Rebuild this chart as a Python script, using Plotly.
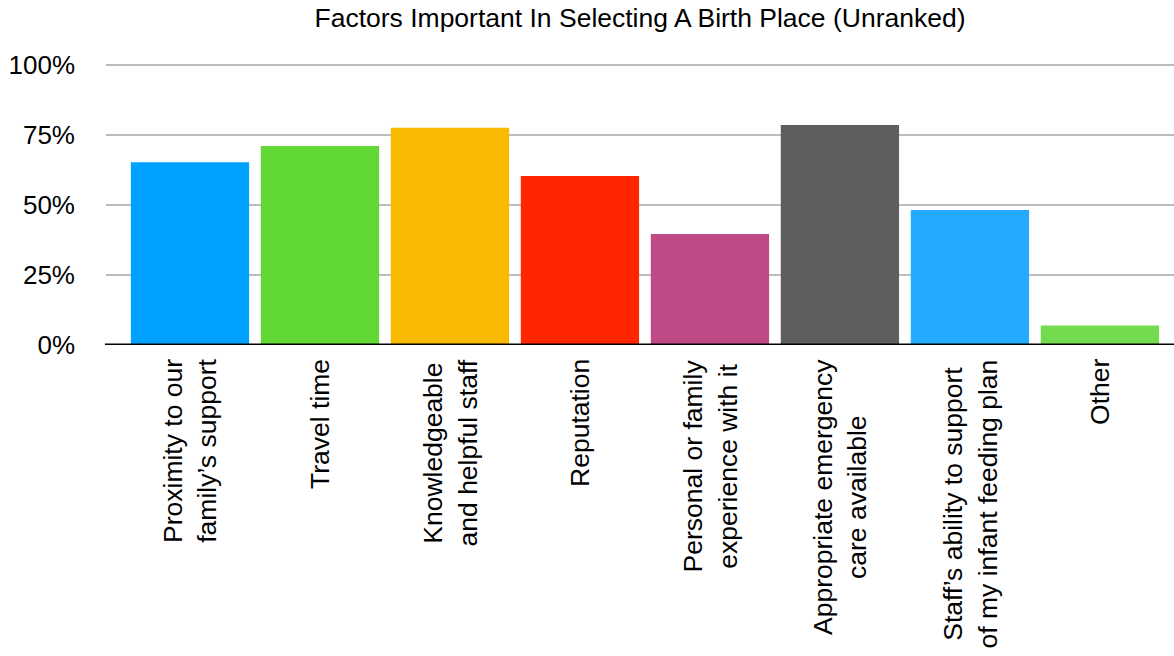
import plotly.graph_objects as go

# Survey results: share of respondents naming each factor
categories = [
    "Proximity to our<br>family’s support",
    "Travel time",
    "Knowledgeable<br>and helpful staff",
    "Reputation",
    "Personal or family<br>experience with it",
    "Appropriate emergency<br>care available",
    "Staff’s ability to support<br>of my infant feeding plan",
    "Other",
]
values = [65.2, 71.0, 77.5, 60.3, 39.6, 78.5, 48.2, 7.0]
colors = ["#00A2FF", "#61D836", "#F8BA00", "#FF2600",
          "#BF4A86", "#5E5E5E", "#22ABFF", "#72DB4E"]
y_ticks = [0, 25, 50, 75, 100]
y_tick_labels = ["0%", "25%", "50%", "75%", "100%"]

FONT = "Liberation Sans, Arial, Helvetica, sans-serif"
idx = list(range(len(categories)))

fig = go.Figure(
    go.Bar(
        x=idx,
        y=values,
        marker=dict(color=colors, line=dict(width=0)),
        width=0.91,
        hoverinfo="skip",
    )
)

# category labels, rotated and centred under each bar
for i, lab in zip(idx, categories):
    fig.add_annotation(
        x=i, y=0, xref="x", yref="y",
        text=lab, textangle=-90,
        xanchor="center", yanchor="top",
        yshift=-12, align="center",
        showarrow=False,
        font=dict(family=FONT, size=26.5, color="#000000"),
    )

fig.update_layout(
    width=1174,
    height=656,
    margin=dict(l=106, r=0, t=62, b=311),
    paper_bgcolor="white",
    plot_bgcolor="white",
    showlegend=False,
    title=dict(
        text="Factors Important In Selecting A Birth Place (Unranked)",
        x=(106 + 1174) / 2 / 1174, xanchor="center",
        y=1 - 18 / 656, yanchor="middle",
        font=dict(family=FONT, size=26.5, color="#000000"),
    ),
    xaxis=dict(
        range=[-0.646, 7.57],
        showticklabels=False,
        showgrid=False,
        zeroline=False,
        showline=False,
        ticks="",
        fixedrange=True,
    ),
    yaxis=dict(
        range=[0, 101],
        tickvals=y_ticks,
        ticktext=y_tick_labels,
        showgrid=True,
        gridcolor="#BDBDBD",
        gridwidth=2,
        zeroline=False,
        showline=False,
        ticks="",
        ticklabelstandoff=30,
        tickfont=dict(family=FONT, size=26, color="#000000"),
        fixedrange=True,
    ),
    shapes=[
        dict(type="line", xref="x domain", yref="y",
             x0=-0.001, x1=1, y0=0, y1=0,
             line=dict(color="#000000", width=3), layer="above"),
    ],
)

fig.write_html("out.html", config={"displayModeBar": False})
